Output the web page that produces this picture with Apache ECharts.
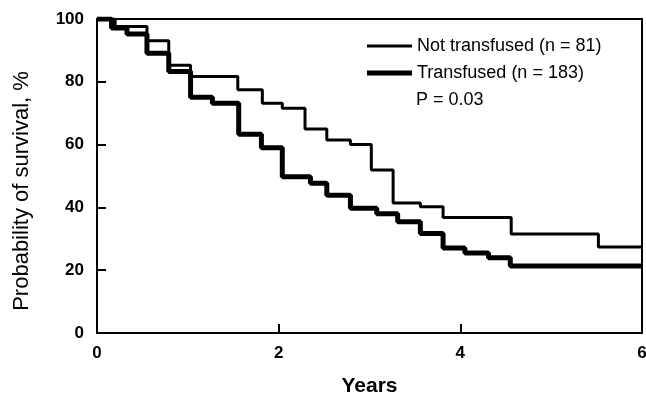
<!DOCTYPE html>
<html>
<head>
<meta charset="utf-8">
<script src="https://cdn.jsdelivr.net/npm/echarts@6/dist/echarts.min.js"></script>
<style>html,body{margin:0;padding:0;background:#fff;}#c{width:646px;height:399px;}</style>
</head>
<body>
<div id="c"></div>
<script>
// Kaplan-Meier step points: [years, survival %]
const notTransfusedYears = [0, 0.2, 0.55, 0.79, 1.03, 1.55, 1.82, 2.04, 2.29, 2.53, 2.79, 3.02, 3.26, 3.56, 3.81, 4.56, 5.52, 6];
const notTransfusedSurv  = [100, 97.6, 93.1, 85.3, 81.7, 77.5, 73.2, 71.6, 65, 61.5, 60, 51.9, 41.4, 40.2, 36.8, 31.5, 27.4, 27.4];
const transfusedYears = [0, 0.16, 0.33, 0.55, 0.79, 1.03, 1.27, 1.56, 1.81, 2.04, 2.35, 2.53, 2.79, 3.08, 3.31, 3.56, 3.81, 4.05, 4.31, 4.55, 6];
const transfusedSurv  = [100, 97.1, 95.2, 89.1, 83.3, 75.1, 73.2, 63.3, 59, 49.8, 47.7, 43.9, 39.7, 38, 35.4, 31.7, 27.1, 25.5, 24, 21.3, 21.3];
const seriesNames = ['Not transfused (n = 81)', 'Transfused (n = 183)'];
const xTicks = [0, 2, 4, 6];
const yTicks = [0, 20, 40, 60, 80, 100];

const zip = (a, b) => a.map((v, i) => [v, b[i]]);
const font = '"Liberation Sans", Arial, sans-serif';

const chart = echarts.init(document.getElementById('c'));
chart.setOption({
  animation: false,
  grid: { left: 97, right: 4, top: 19, bottom: 66, outerBoundsMode: 'none', containLabel: false,
    show: true, borderColor: '#000', borderWidth: 2, backgroundColor: 'transparent' },
  title: {
    text: 'P = 0.03', left: 416, top: 91, padding: 0,
    textStyle: { fontFamily: font, fontSize: 18, fontWeight: 'normal', color: '#000' }
  },
  legend: {
    orient: 'vertical', left: 367, top: 37, padding: 0, itemWidth: 45, itemHeight: 18, itemGap: 9,
    symbolKeepAspect: true,
    data: [
      { name: seriesNames[0], icon: 'path://M0,0L45,0L45,3L0,3Z', itemStyle: { color: '#000' } },
      { name: seriesNames[1], icon: 'path://M0,0L45,0L45,5L0,5Z', itemStyle: { color: '#000' } }
    ],
    textStyle: { fontFamily: font, fontSize: 18, color: '#000' }
  },
  xAxis: {
    type: 'value', min: 0, max: 6, interval: 2,
    name: 'Years', nameLocation: 'middle', nameGap: 43,
    nameTextStyle: { fontFamily: font, fontSize: 21, fontWeight: 'bold', color: '#000' },
    axisLine: { lineStyle: { color: '#000', width: 2 } },
    axisTick: { inside: true, length: 9, lineStyle: { color: '#000', width: 2 } },
    axisLabel: { fontFamily: font, fontSize: 17, fontWeight: 'bold', color: '#000', margin: 12,
      formatter: v => xTicks.includes(v) ? String(v) : '' },
    splitLine: { show: false }
  },
  yAxis: {
    type: 'value', min: 0, max: 100, interval: 20,
    name: 'Probability of survival, %', nameLocation: 'middle', nameGap: 64,
    nameTextStyle: { fontFamily: font, fontSize: 22, color: '#000', padding: [0, 30, 0, 0] },
    axisLine: { lineStyle: { color: '#000', width: 2 } },
    axisTick: { inside: true, length: 9, lineStyle: { color: '#000', width: 2 } },
    axisLabel: { fontFamily: font, fontSize: 17, fontWeight: 'bold', color: '#000', margin: 13,
      formatter: v => yTicks.includes(v) ? String(v) : '' },
    splitLine: { show: false }
  },
  series: [
    { name: seriesNames[0], type: 'line', step: 'end', symbol: 'none', data: zip(notTransfusedYears, notTransfusedSurv),
      lineStyle: { color: '#000', width: 3 }, itemStyle: { color: '#000' } },
    { name: seriesNames[1], type: 'line', step: 'end', symbol: 'none', data: zip(transfusedYears, transfusedSurv),
      lineStyle: { color: '#000', width: 5 }, itemStyle: { color: '#000' } }
  ]
});
</script>
</body>
</html>
